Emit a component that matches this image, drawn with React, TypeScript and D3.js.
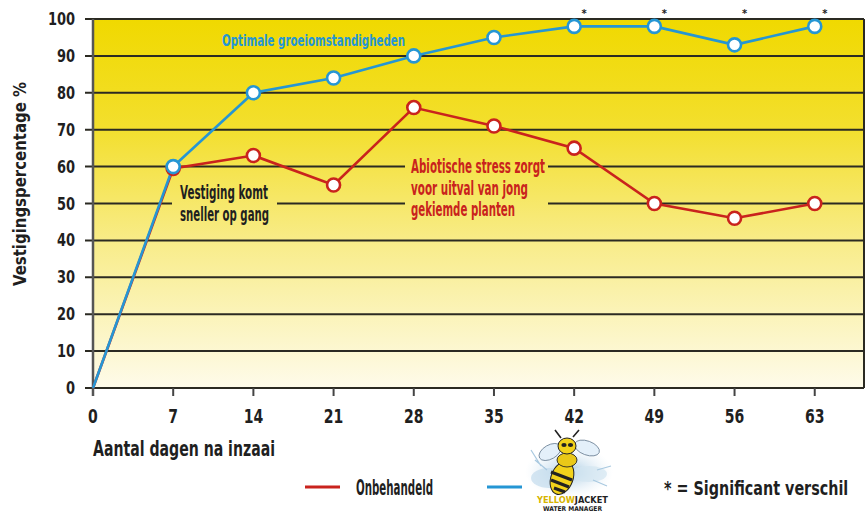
import React from "react";
import * as d3 from "d3";

const days = [0, 7, 14, 21, 28, 35, 42, 49, 56, 63];
const onbehandeld = [0, 59.5, 63, 55, 76, 71, 65, 50, 46, 50];
const yellowJacket = [0, 60, 80, 84, 90, 95, 98, 98, 93, 98];
const significantDays = [42, 49, 56, 63];
const yTicks = [0, 10, 20, 30, 40, 50, 60, 70, 80, 90, 100];

const W = 867, H = 514;
const FONT = "'DejaVu Sans Condensed','Liberation Sans Narrow','DejaVu Sans',Arial,sans-serif";
const RED = "#c9231d";
const BLUE = "#2596d4";
const INK = "#1f1f1f";

function T(props: { x: number; y: number; len: number; size: number; fill?: string; anchor?: string; children: React.ReactNode }) {
  return (
    <text x={props.x} y={props.y} textLength={props.len} lengthAdjust="spacingAndGlyphs" fontFamily={FONT} fontWeight="bold"
      fontSize={props.size} fill={props.fill || INK} textAnchor={props.anchor || "start"}>{props.children}</text>
  );
}

export default function App() {
  const x = d3.scaleLinear().domain([0, 67.3]).range([93, 864]);
  const y = d3.scaleLinear().domain([0, 100]).range([388, 19]);
  const line = d3.line<number>().x((_, i) => x(days[i])).y((v) => y(v));

  const redPts = days.map((d, i) => [d, onbehandeld[i]] as [number, number]);
  const bluePts = days.map((d, i) => [d, yellowJacket[i]] as [number, number]);

  return (
    <svg width={W} height={H} style={{ position: "absolute", left: 0, top: 0, background: "#fff" }}>
      <defs>
        <linearGradient id="bg" gradientUnits="userSpaceOnUse" x1="0" y1={y(100)} x2="0" y2={y(0)}>
          <stop offset="0" stopColor="#f0d900" />
          <stop offset="0.3" stopColor="#f3df2e" />
          <stop offset="0.6" stopColor="#f8ec88" />
          <stop offset="1" stopColor="#fefbea" />
        </linearGradient>
        <radialGradient id="splash" cx="0.5" cy="0.5" r="0.5">
          <stop offset="0" stopColor="#9cc3df" stopOpacity="0.9" />
          <stop offset="1" stopColor="#d9e9f4" stopOpacity="0" />
        </radialGradient>
      </defs>
      <rect x={x(0)} y={y(100)} width={x(67.3) - x(0)} height={y(0) - y(100)} fill="url(#bg)" />
      {yTicks.map((t) => (
        <line key={t} x1={x(0) - 8} x2={x(67.3)} y1={y(t)} y2={y(t)} stroke="#2b2a22" strokeWidth={2} />
      ))}
      <line x1={x(67.3)} x2={x(67.3)} y1={y(100)} y2={y(0)} stroke="#2b2a22" strokeWidth={2} />
      {days.map((d) => (
        <line key={d} x1={x(d)} x2={x(d)} y1={y(0)} y2={y(0) + 8} stroke="#444" strokeWidth={2} />
      ))}
      <line x1={x(0)} x2={x(0)} y1={y(100)} y2={y(0) + 8} stroke="#555" strokeWidth={2.5} />

      <rect x={172} y={180} width={105} height={46} fill="url(#bg)" />
      <rect x={405} y={154} width={143} height={70} fill="url(#bg)" />

      <path d={line(onbehandeld) || ""} fill="none" stroke={RED} strokeWidth={2.6} />
      <path d={line(yellowJacket) || ""} fill="none" stroke={BLUE} strokeWidth={2.6} />
      {redPts.slice(1).map(([d, v]) => (
        <circle key={"r" + d} cx={x(d)} cy={y(v)} r={6.5} fill="#fff" stroke={RED} strokeWidth={2.6} />
      ))}
      {bluePts.slice(1).map(([d, v]) => (
        <circle key={"b" + d} cx={x(d)} cy={y(v)} r={6.5} fill="#fff" stroke={BLUE} strokeWidth={2.6} />
      ))}
      {significantDays.map((d) => (
        <text key={"s" + d} x={x(d) + 10} y={17} fontFamily={FONT} fontSize={11} fontWeight="bold" textAnchor="middle" fill="#222">*</text>
      ))}

      {yTicks.map((t) => (
        <text key={"yl" + t} transform={`translate(75,${y(t) + 6}) scale(0.85,1)`} textAnchor="end" fontFamily={FONT} fontWeight="bold" fontSize={17} fill={INK}>{t}</text>
      ))}
      {days.map((d) => (
        <text key={"xl" + d} transform={`translate(${x(d)},423) scale(0.78,1)`} textAnchor="middle" fontFamily={FONT} fontWeight="bold" fontSize={20} fill={INK}>{d}</text>
      ))}

      <g transform="translate(26,184) rotate(-90)">
        <T x={0} y={0} len={204} size={18} anchor="middle">Vestigingspercentage %</T>
      </g>
      <T x={93} y={456} len={182} size={21}>Aantal dagen na inzaai</T>

      <T x={222} y={46} len={183} size={15} fill={BLUE}>Optimale groeiomstandigheden</T>
      <T x={180} y={199} len={88} size={19}>Vestiging komt</T>
      <T x={180} y={221} len={89} size={19}>sneller op gang</T>
      <T x={411} y={173} len={134} size={19} fill={RED}>Abiotische stress zorgt</T>
      <T x={411} y={195} len={117} size={19} fill={RED}>voor uitval van jong</T>
      <T x={411} y={216} len={104} size={19} fill={RED}>gekiemde planten</T>

      {/* legend */}
      <line x1={305} x2={340} y1={487} y2={487} stroke={RED} strokeWidth={3} />
      <T x={356} y={495} len={77} size={21}>Onbehandeld</T>
      <line x1={487} x2={522} y1={487} y2={487} stroke={BLUE} strokeWidth={3} />
      <g transform="translate(527,430)">
        <ellipse cx={42} cy={42} rx={44} ry={26} fill="url(#splash)" />
        <ellipse cx={22} cy={48} rx={18} ry={10} fill="#c3dbec" opacity={0.7} />
        <ellipse cx={62} cy={44} rx={18} ry={8} fill="#d3e5f1" opacity={0.7} />
        <path d="M4,20 L14,36 M8,30 L20,40 M70,40 L84,36 M66,50 L80,56" stroke="#a9c9e0" strokeWidth={1.2} />
        <ellipse cx={23} cy={22} rx={12} ry={7} fill="#e4f0fa" stroke="#6d8296" strokeWidth={0.8} transform="rotate(-30,23,22)" />
        <ellipse cx={60} cy={18} rx={13} ry={7} fill="#e4f0fa" stroke="#6d8296" strokeWidth={0.8} transform="rotate(20,60,18)" />
        <path d="M34,8 L28,0 M46,7 L52,0" stroke="#222" strokeWidth={1.6} fill="none" />
        <ellipse cx={35} cy={48} rx={11} ry={17} fill="#f2d21b" stroke="#222" strokeWidth={1} transform="rotate(20,35,48)" />
        <path d="M24,42 L45,50 M24,50 L42,57 M27,58 L38,62" stroke="#222" strokeWidth={3.2} />
        <ellipse cx={40} cy={30} rx={10} ry={7} fill="#e9c818" stroke="#222" strokeWidth={0.9} />
        <ellipse cx={40} cy={16} rx={9} ry={8} fill="#f2d21b" stroke="#222" strokeWidth={1} />
        <ellipse cx={37} cy={15} rx={2.6} ry={2} fill="#222" />
        <ellipse cx={43.5} cy={15} rx={2.6} ry={2} fill="#222" />
        <text x={10} y={73} textLength={71} lengthAdjust="spacingAndGlyphs" fontFamily={FONT} fontWeight="bold" fontSize={9}>
          <tspan fill="#d6b400">YELLOW</tspan>
          <tspan fill="#222">JACKET</tspan>
        </text>
        <text x={16} y={81} textLength={59} lengthAdjust="spacingAndGlyphs" fontFamily={FONT} fontWeight="bold" fontSize={6.5} fill="#222">WATER MANAGER</text>
      </g>
      <text transform="translate(664,495) scale(0.84,1)" fontFamily={FONT} fontWeight="bold" fontSize={19} fill={INK}>* = Significant verschil</text>
    </svg>
  );
}
